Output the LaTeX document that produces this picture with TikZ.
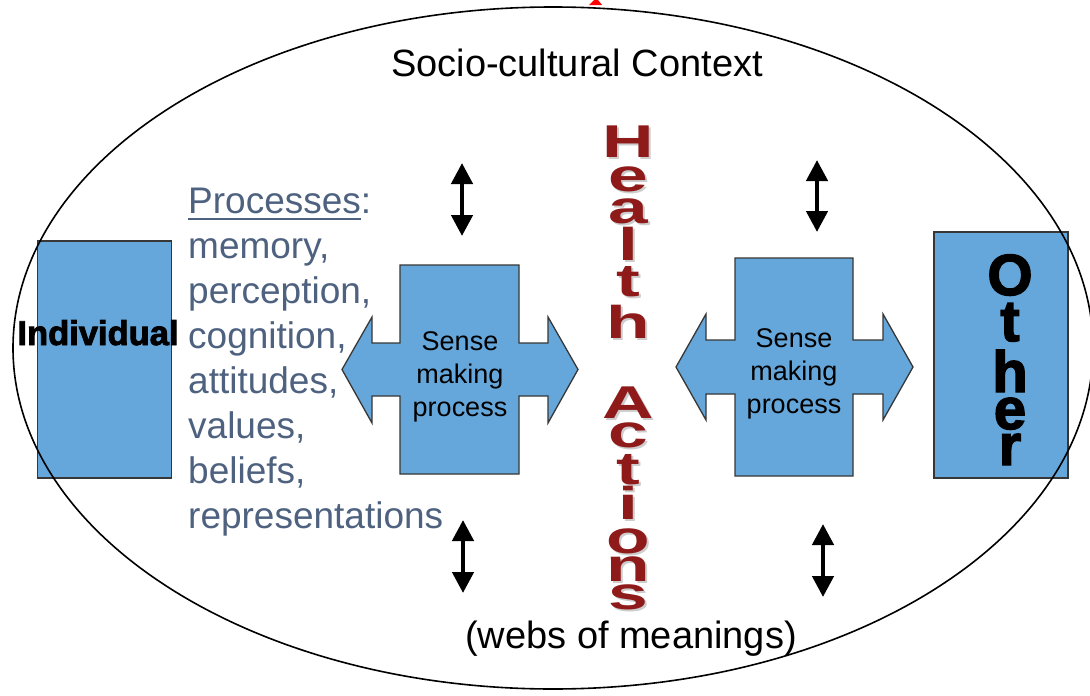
\documentclass[tikz,border=0pt]{standalone}
\usepackage{fontspec}
\setmainfont{Liberation Sans}[BoldFeatures={FakeBold=2.5}]
\newfontfamily\hafont{Liberation Sans}
\usetikzlibrary{arrows.meta}
\definecolor{boxblue}{RGB}{101,167,218}
\definecolor{boxline}{RGB}{55,55,55}
\definecolor{procblue}{RGB}{78,98,128}
\definecolor{hared}{RGB}{142,26,26}
\definecolor{hashade}{RGB}{205,205,205}
\newcommand{\haglyph}[1]{\makebox[0pt][l]{\hspace*{2pt}\raisebox{-2pt}[0pt][0pt]{\textcolor{hashade}{\scalebox{1.55}[1]{#1}}}}\scalebox{1.55}[1]{#1}}
\begin{document}
\begin{tikzpicture}[x=1pt,y=-1pt,
  bluebox/.style={draw=boxline, line width=1.3pt, fill=boxblue, inner sep=0pt},
  bluearrow/.style={draw=boxline, line width=1.3pt, fill=boxblue},
  proc/.style={text=procblue, anchor=base west, inner sep=0pt, font=\fontsize{37}{44}\selectfont},
  sensetxt/.style={anchor=base, inner sep=0pt, font=\fontsize{27}{33}\selectfont},
  bigtxt/.style={anchor=base, inner sep=0pt, font=\fontsize{38}{45}\selectfont},
  haletter/.style={anchor=base, inner sep=0pt, text=hared, font=\hafont\bfseries\fontsize{46}{50}\selectfont},
  otherletter/.style={anchor=base, inner sep=0pt, font=\bfseries\fontsize{58}{60}\selectfont},
  dblarrow/.style={line width=4.5pt, {Triangle[width=21pt,length=21pt]}-{Triangle[width=21pt,length=21pt]}}
]
\useasboundingbox (0,0) rectangle (1090,696);
\fill[white] (0,0) rectangle (1090,696);

% small red mark at the top
\fill[red] (594,0) -- (598,0) -- (602,5) -- (589,5) -- cycle;

% boxes
\node[bluebox, minimum width=134, minimum height=237] (indbox) at (104.5,359.5) {};
\node[bluebox, minimum width=134, minimum height=246] (othbox) at (1001,355) {};

% sense making shapes
\draw[bluearrow] (400,265) -- (519,265) -- (519,343) -- (548,343) -- (548,317) -- (578,369.5)
  -- (548,423) -- (548,396) -- (519,396) -- (519,474) -- (400,474) -- (400,396) -- (372,396)
  -- (372,423) -- (342,369.5) -- (372,317) -- (372,343) -- (400,343) -- cycle;
\draw[bluearrow] (735,258) -- (853,258) -- (853,340) -- (883,340) -- (883,314) -- (913,367)
  -- (883,420) -- (883,394) -- (853,394) -- (853,476) -- (735,476) -- (735,394) -- (706,394)
  -- (706,420) -- (676,367) -- (706,314) -- (706,340) -- (735,340) -- cycle;

% context ellipse
\draw[line width=1.6pt] (553,348) ellipse [x radius=540pt, y radius=341pt];

% texts
\node[bigtxt] (ctx) at (577,76) {Socio-cultural Context};
\node[bigtxt] (webs) at (631,648) {(webs of meanings)};
\node[anchor=base, inner sep=0pt, font=\bfseries\fontsize{34.5}{36}\selectfont] (indtxt) at (98,345) {Individual};

\foreach \t/\yy [count=\i] in {Sense/350, making/383, process/416}
  {\node[sensetxt] (sl\i) at (460,\yy) {\t};}
\foreach \t/\yy [count=\i] in {Sense/347, making/380, process/413}
  {\node[sensetxt] (sr\i) at (794,\yy) {\t};}

\node[proc] (p0) at (188,213) {Processes:};
\draw[procblue, line width=1.8pt] ([yshift=-6pt]p0.base west) -- ++(173,0);
\node[proc] (p1) at (188,258) {memory,};
\node[proc] (p2) at (188,303) {perception,};
\node[proc] (p3) at (188,348) {cognition,};
\node[proc] (p4) at (188,393) {attitudes,};
\node[proc] (p5) at (188,438) {values,};
\node[proc] (p6) at (188,483) {beliefs,};
\node[proc] (p7) at (188,528) {representations};

% Health Actions
\foreach \t/\yy [count=\i] in {H/157, e/191, a/223, l/260, t/296, h/338, A/418, c/447, t/484, i/519, o/553, n/581, s/609}
  {\node[haletter] (ha\i) at (628,\yy) {\haglyph{\t}};}

% Other
\foreach \t/\yy [count=\i] in {O/295, t/341, h/392, e/429, r/465}
  {\node[otherletter] (ot\i) at (1010,\yy) {\t};}

% double arrows
\coordinate (ula) at (462,163); \coordinate (ulb) at (462,236);
\coordinate (lla) at (463,520); \coordinate (llb) at (463,593);
\coordinate (ura) at (817,160); \coordinate (urb) at (817,232);
\coordinate (lra) at (823,524); \coordinate (lrb) at (823,597);
\draw[dblarrow] (ula) -- (ulb);
\draw[dblarrow] (lla) -- (llb);
\draw[dblarrow] (ura) -- (urb);
\draw[dblarrow] (lra) -- (lrb);
\end{tikzpicture}
\end{document}
